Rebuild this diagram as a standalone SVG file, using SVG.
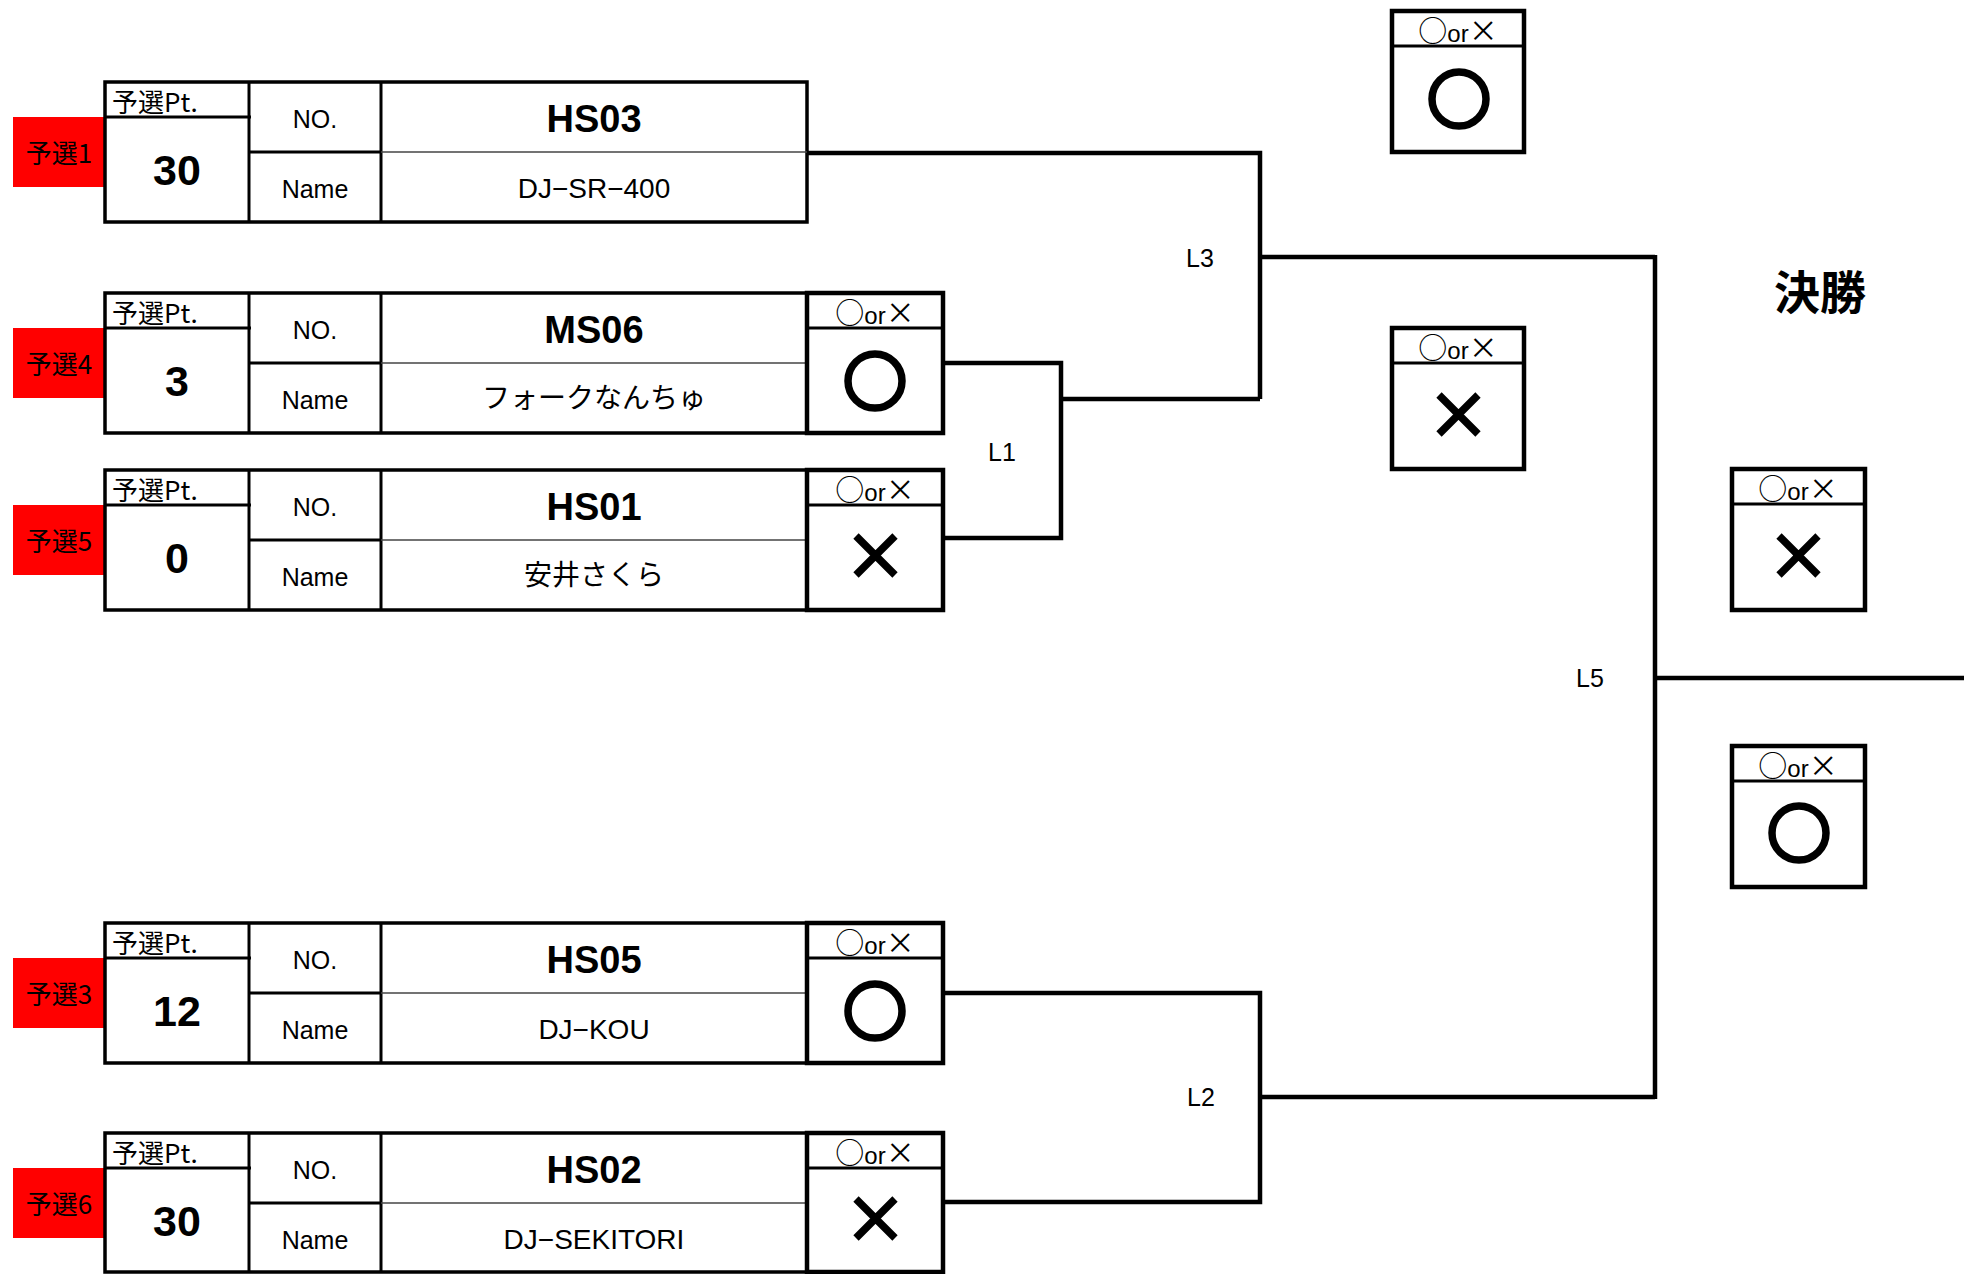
<svg xmlns="http://www.w3.org/2000/svg" width="1964" height="1274" viewBox="0 0 1964 1274">
<defs>
<style>
text{font-family:"Liberation Sans","Noto Sans CJK JP",sans-serif;fill:#000}
.jp{font-family:"Noto Sans CJK JP","Liberation Sans",sans-serif}
.red{fill:#ff0000}
.box{fill:#fff;stroke:#000;stroke-width:3.5}
.sep{stroke:#000;stroke-width:3}
.thin{stroke:#444;stroke-width:1.5}
.ox{fill:#fff;stroke:#000;stroke-width:4.5}
.mk{fill:none;stroke:#000;stroke-width:7.5}
.con{fill:none;stroke:#000;stroke-width:4.5}
.lab{font-size:26px;text-anchor:middle}
.pth{font-size:26px}
.val{font-size:43px;font-weight:bold;text-anchor:middle}
.hd{font-size:25px;text-anchor:middle}
.hd2{font-size:25px;text-anchor:middle}
.code{font-size:38px;font-weight:bold;text-anchor:middle}
.nm{font-size:28px;text-anchor:middle}
.oxt{font-size:25px;text-anchor:middle}
.big{font-size:29px}
.sm{font-size:24px;font-family:"Liberation Sans",sans-serif}
.ll{font-size:25px;text-anchor:middle}
</style>
</defs>
<rect width="1964" height="1274" fill="#fff"/>

<g id="connectors">
<polyline class="con" points="807,153 1260,153 1260,399"/>
<polyline class="con" points="943,363 1061,363 1061,538 943,538"/>
<line class="con" x1="1061" y1="399" x2="1260" y2="399"/>
<line class="con" x1="1260" y1="257" x2="1655" y2="257"/>
<polyline class="con" points="943,993 1260,993 1260,1202 943,1202"/>
<line class="con" x1="1260" y1="1097" x2="1655" y2="1097"/>
<line class="con" x1="1655" y1="255" x2="1655" y2="1099"/>
<line class="con" x1="1655" y1="678" x2="1964" y2="678"/>
<text class="ll" x="1002" y="461">L1</text>
<text class="ll" x="1200" y="267">L3</text>
<text class="ll" x="1201" y="1106">L2</text>
<text class="ll" x="1590" y="687">L5</text>
</g>

<g id="row1" transform="translate(0,82)">
<rect class="red" x="13" y="35" width="92" height="70"/>
<rect class="box" x="105" y="0" width="702" height="140"/>
<line class="sep" x1="249" y1="0" x2="249" y2="140"/>
<line class="sep" x1="381" y1="0" x2="381" y2="140"/>
<line class="sep" x1="105" y1="35" x2="251" y2="35"/>
<line class="sep" x1="249" y1="70" x2="381" y2="70"/>
<line class="thin" x1="381" y1="70" x2="807" y2="70"/>
<text class="lab jp" x="59" y="81">予選1</text>
<text class="pth jp" x="112" y="30">予選Pt.</text>
<text class="val" x="177" y="103">30</text>
<text class="hd" x="315" y="46">NO.</text>
<text class="hd2" x="315" y="116">Name</text>
<text class="code" x="594" y="50">HS03</text>
<text class="nm" x="594" y="116">DJ−SR−400</text>
</g>

<g id="row4" transform="translate(0,293)">
<rect class="red" x="13" y="35" width="92" height="70"/>
<rect class="box" x="105" y="0" width="702" height="140"/>
<line class="sep" x1="249" y1="0" x2="249" y2="140"/>
<line class="sep" x1="381" y1="0" x2="381" y2="140"/>
<line class="sep" x1="105" y1="35" x2="251" y2="35"/>
<line class="sep" x1="249" y1="70" x2="381" y2="70"/>
<line class="thin" x1="381" y1="70" x2="807" y2="70"/>
<text class="lab jp" x="59" y="81">予選4</text>
<text class="pth jp" x="112" y="30">予選Pt.</text>
<text class="val" x="177" y="103">3</text>
<text class="hd" x="315" y="46">NO.</text>
<text class="hd2" x="315" y="116">Name</text>
<text class="code" x="594" y="50">MS06</text>
<text class="nm jp" x="594" y="115">フォークなんちゅ</text>
<rect class="ox" x="807" y="0" width="136" height="140"/>
<line class="sep" x1="807" y1="35" x2="943" y2="35"/>
<text class="oxt jp" x="875" y="31"><tspan class="big">○</tspan><tspan class="sm">or</tspan><tspan class="big">×</tspan></text>
<circle class="mk" cx="875" cy="88" r="27"/>
</g>

<g id="row5" transform="translate(0,470)">
<rect class="red" x="13" y="35" width="92" height="70"/>
<rect class="box" x="105" y="0" width="702" height="140"/>
<line class="sep" x1="249" y1="0" x2="249" y2="140"/>
<line class="sep" x1="381" y1="0" x2="381" y2="140"/>
<line class="sep" x1="105" y1="35" x2="251" y2="35"/>
<line class="sep" x1="249" y1="70" x2="381" y2="70"/>
<line class="thin" x1="381" y1="70" x2="807" y2="70"/>
<text class="lab jp" x="59" y="81">予選5</text>
<text class="pth jp" x="112" y="30">予選Pt.</text>
<text class="val" x="177" y="103">0</text>
<text class="hd" x="315" y="46">NO.</text>
<text class="hd2" x="315" y="116">Name</text>
<text class="code" x="594" y="50">HS01</text>
<text class="nm jp" x="594" y="115">安井さくら</text>
<rect class="ox" x="807" y="0" width="136" height="140"/>
<line class="sep" x1="807" y1="35" x2="943" y2="35"/>
<text class="oxt jp" x="875" y="31"><tspan class="big">○</tspan><tspan class="sm">or</tspan><tspan class="big">×</tspan></text>
<path class="mk" d="M856,66 L895,105 M895,66 L856,105"/>
</g>

<g id="row3" transform="translate(0,923)">
<rect class="red" x="13" y="35" width="92" height="70"/>
<rect class="box" x="105" y="0" width="702" height="140"/>
<line class="sep" x1="249" y1="0" x2="249" y2="140"/>
<line class="sep" x1="381" y1="0" x2="381" y2="140"/>
<line class="sep" x1="105" y1="35" x2="251" y2="35"/>
<line class="sep" x1="249" y1="70" x2="381" y2="70"/>
<line class="thin" x1="381" y1="70" x2="807" y2="70"/>
<text class="lab jp" x="59" y="81">予選3</text>
<text class="pth jp" x="112" y="30">予選Pt.</text>
<text class="val" x="177" y="103">12</text>
<text class="hd" x="315" y="46">NO.</text>
<text class="hd2" x="315" y="116">Name</text>
<text class="code" x="594" y="50">HS05</text>
<text class="nm" x="594" y="116">DJ−KOU</text>
<rect class="ox" x="807" y="0" width="136" height="140"/>
<line class="sep" x1="807" y1="35" x2="943" y2="35"/>
<text class="oxt jp" x="875" y="31"><tspan class="big">○</tspan><tspan class="sm">or</tspan><tspan class="big">×</tspan></text>
<circle class="mk" cx="875" cy="88" r="27"/>
</g>

<g id="row6" transform="translate(0,1133)">
<rect class="red" x="13" y="35" width="92" height="70"/>
<rect class="box" x="105" y="0" width="702" height="139"/>
<line class="sep" x1="249" y1="0" x2="249" y2="140"/>
<line class="sep" x1="381" y1="0" x2="381" y2="140"/>
<line class="sep" x1="105" y1="35" x2="251" y2="35"/>
<line class="sep" x1="249" y1="70" x2="381" y2="70"/>
<line class="thin" x1="381" y1="70" x2="807" y2="70"/>
<text class="lab jp" x="59" y="81">予選6</text>
<text class="pth jp" x="112" y="30">予選Pt.</text>
<text class="val" x="177" y="103">30</text>
<text class="hd" x="315" y="46">NO.</text>
<text class="hd2" x="315" y="116">Name</text>
<text class="code" x="594" y="50">HS02</text>
<text class="nm" x="594" y="116">DJ−SEKITORI</text>
<rect class="ox" x="807" y="0" width="136" height="139"/>
<line class="sep" x1="807" y1="35" x2="943" y2="35"/>
<text class="oxt jp" x="875" y="31"><tspan class="big">○</tspan><tspan class="sm">or</tspan><tspan class="big">×</tspan></text>
<path class="mk" d="M856,66 L895,105 M895,66 L856,105"/>
</g>

<g id="semi1" transform="translate(1392,11)">
<rect class="ox" x="0" y="0" width="132" height="141"/>
<line class="sep" x1="0" y1="35" x2="132" y2="35"/>
<text class="oxt jp" x="66" y="31"><tspan class="big">○</tspan><tspan class="sm">or</tspan><tspan class="big">×</tspan></text>
<circle class="mk" cx="67" cy="88" r="27"/>
</g>

<g id="semi2" transform="translate(1392,328)">
<rect class="ox" x="0" y="0" width="132" height="141"/>
<line class="sep" x1="0" y1="35" x2="132" y2="35"/>
<text class="oxt jp" x="66" y="31"><tspan class="big">○</tspan><tspan class="sm">or</tspan><tspan class="big">×</tspan></text>
<path class="mk" d="M47,67 L86,106 M86,67 L47,106"/>
</g>

<g id="final-title">
<text class="jp" x="1820" y="309" style="font-size:46px;font-weight:bold;text-anchor:middle">決勝</text>
</g>

<g id="final1" transform="translate(1732,469)">
<rect class="ox" x="0" y="0" width="133" height="141"/>
<line class="sep" x1="0" y1="35" x2="133" y2="35"/>
<text class="oxt jp" x="66" y="31"><tspan class="big">○</tspan><tspan class="sm">or</tspan><tspan class="big">×</tspan></text>
<path class="mk" d="M47,67 L86,106 M86,67 L47,106"/>
</g>

<g id="final2" transform="translate(1732,746)">
<rect class="ox" x="0" y="0" width="133" height="141"/>
<line class="sep" x1="0" y1="35" x2="133" y2="35"/>
<text class="oxt jp" x="66" y="31"><tspan class="big">○</tspan><tspan class="sm">or</tspan><tspan class="big">×</tspan></text>
<circle class="mk" cx="67" cy="87" r="27"/>
</g>
</svg>
